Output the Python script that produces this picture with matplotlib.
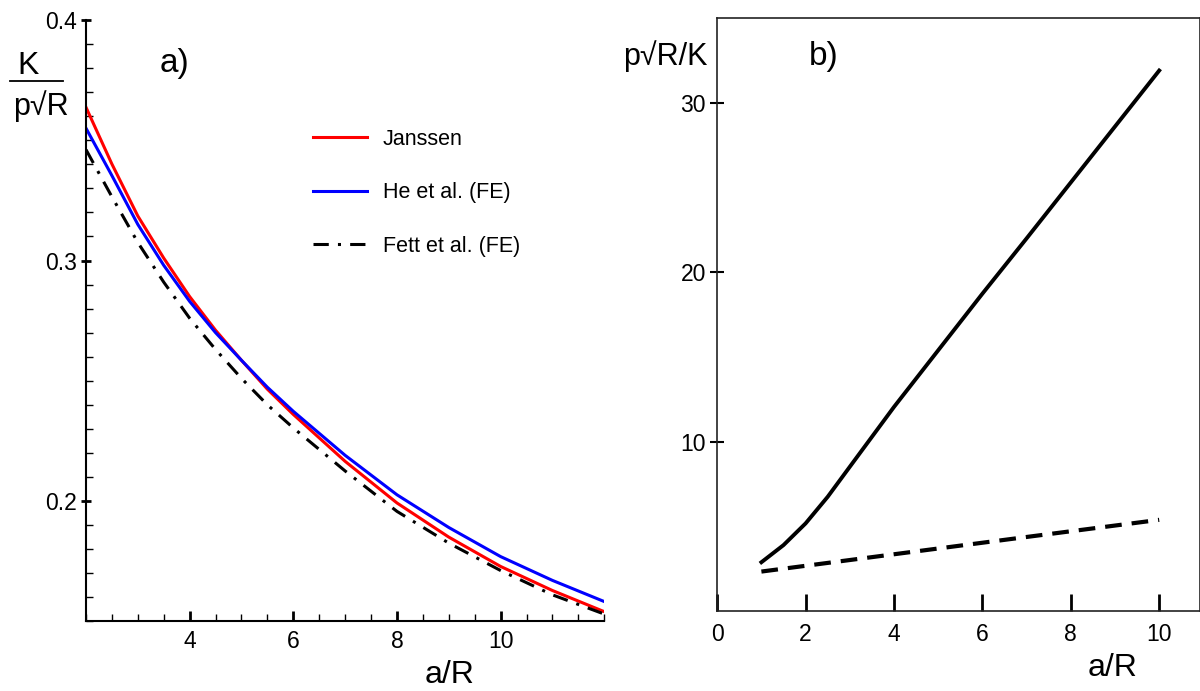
import matplotlib
matplotlib.use("Agg")
import matplotlib.pyplot as plt
from matplotlib.lines import Line2D
from matplotlib.ticker import MultipleLocator

plt.rcParams['font.family'] = ['Liberation Sans', 'DejaVu Sans']

# ---- data, panel a) ----
a_left = [2, 2.5, 3, 3.5, 4, 4.5, 5, 5.5, 6, 7, 8, 9, 10, 11, 12]
k_janssen = [0.3637, 0.3401, 0.3185, 0.3010, 0.2850, 0.2710, 0.2585, 0.2465, 0.2360, 0.2165, 0.1992, 0.1850, 0.1728, 0.1628, 0.1540]
k_he = [0.3550, 0.3353, 0.3150, 0.2980, 0.2830, 0.2700, 0.2585, 0.2473, 0.2373, 0.2190, 0.2026, 0.1890, 0.1769, 0.1670, 0.1582]
k_fett = [0.3461, 0.3265, 0.3075, 0.2910, 0.2760, 0.2630, 0.2510, 0.2400, 0.2304, 0.2125, 0.1957, 0.1825, 0.1711, 0.1610, 0.1530]
legend_labels = ["Janssen", "He et al. (FE)", "Fett et al. (FE)"]

# ---- data, panel b) ----
a_right = [1, 1.5, 2, 2.5, 3, 4, 5, 6, 7, 8, 9, 10]
p_solid = [2.9, 3.91, 5.19, 6.76, 8.53, 12.06, 15.4, 18.74, 22.0, 25.3, 28.6, 31.9]
a_dash = [1, 4, 7, 10]
p_dash = [2.35, 3.37, 4.39, 5.40]

W, H = 1200, 691
fig = plt.figure(figsize=(W / 100, H / 100), dpi=100)

# ---------------- panel a ----------------
ax1 = fig.add_axes([86 / W, 1 - 621.3 / H, (604.3 - 86) / W, (621.3 - 20) / H])
ax1.plot(a_left, k_janssen, color='#ff0000', lw=2.2, label=legend_labels[0])
ax1.plot(a_left, k_he, color='#0000ff', lw=2.2, label=legend_labels[1])
ax1.plot(a_left, k_fett, color='black', lw=2.2, dashes=(5, 3, 1, 3), label=legend_labels[2])
ax1.set_xlim(2, 12)
ax1.set_ylim(0.15, 0.4)
ax1.spines['top'].set_visible(False)
ax1.spines['right'].set_visible(False)
for s in ('left', 'bottom'):
    ax1.spines[s].set_linewidth(1.5)
ax1.set_xticks([4, 6, 8, 10])
ax1.xaxis.set_minor_locator(MultipleLocator(0.5))
ax1.set_yticks([0.2, 0.3, 0.4])
ax1.set_yticklabels(['0.2', '0.3', '0.4'])
ax1.yaxis.set_minor_locator(MultipleLocator(0.01))
ax1.tick_params(axis='x', which='major', direction='in', length=7, width=2, labelsize=16.5, pad=6)
ax1.tick_params(axis='x', which='minor', direction='in', length=5, width=1)
ax1.tick_params(axis='y', which='major', direction='inout', length=7, width=2, labelsize=16.5, pad=3)
ax1.tick_params(axis='y', which='minor', direction='in', length=5, width=1)
ax1.set_xlabel('a/R', fontsize=23)
ax1.xaxis.set_label_coords(0.702, -0.064)
ax1.text(0.143, 0.927, 'a)', transform=ax1.transAxes, fontsize=24, ha='left', va='center')
leg = ax1.legend(loc='upper left', bbox_to_anchor=(313 / W, 1 - 129 / H), bbox_transform=fig.transFigure,
                 frameon=False, fontsize=15.5, handlelength=2.5, handletextpad=0.75, labelspacing=1.5,
                 borderpad=0, borderaxespad=0)

# y-label as a fraction
fig.text(28 / W, 1 - 66 / H, 'K', fontsize=23, ha='center', va='center')
fig.add_artist(Line2D([10 / W, 63 / W], [1 - 81 / H, 1 - 81 / H], color='black', lw=1.3))
fig.text(41 / W, 1 - 106 / H, 'p\u221aR', fontsize=22, ha='center', va='center')

# ---------------- panel b ----------------
ax2 = fig.add_axes([717.2 / W, 1 - 611.4 / H, (W - 717.2) / W, (611.4 - 18) / H])
ax2.plot(a_right, p_solid, color='black', lw=2.8)
ax2.plot(a_dash, p_dash, color='black', lw=3, dashes=(4, 2.4))
ax2.set_xlim(0, (W - 717.2) / 44.2)
ax2.set_ylim(0, 35)
for s in ax2.spines.values():
    s.set_linewidth(1.2)
    s.set_color('#222222')
ax2.set_xticks([0, 2, 4, 6, 8, 10])
ax2.set_yticks([10, 20, 30])
ax2.tick_params(axis='x', direction='in', length=12, width=2, labelsize=16.5, pad=8)
ax2.tick_params(axis='y', direction='inout', length=10, width=1.5, labelsize=16.5, pad=3)
ax2.text(-0.02, 0.935, 'p\u221aR/K', transform=ax2.transAxes, fontsize=22, ha='right', va='center')
ax2.text(0.19, 0.935, 'b)', transform=ax2.transAxes, fontsize=24, ha='left', va='center')
ax2.set_xlabel('a/R', fontsize=23)
ax2.xaxis.set_label_coords(0.818, -0.07)

fig.savefig('out.png', dpi=100)
